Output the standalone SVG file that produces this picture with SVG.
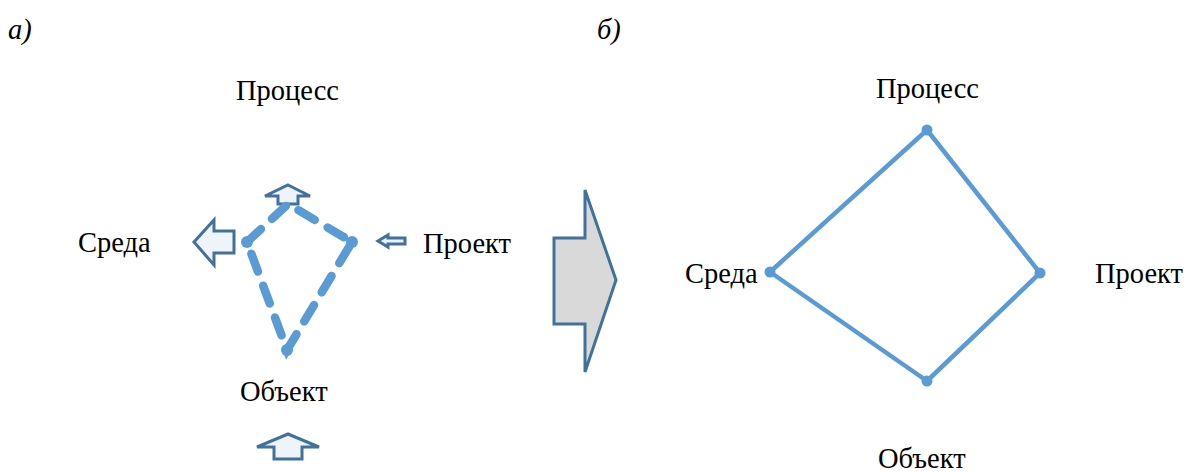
<svg xmlns="http://www.w3.org/2000/svg" width="1189" height="472" viewBox="0 0 1189 472">
<style>
.t{font-family:"Liberation Serif","Times New Roman",serif;font-size:28.5px;fill:#000}
.i{font-style:italic}
.arr{fill:#eef4fa;stroke:#41719c;stroke-width:3;stroke-linejoin:miter}
.dash{fill:none;stroke:#5b9bd5;stroke-width:8.5;stroke-linecap:round;stroke-dasharray:19 15}
.solid{fill:none;stroke:#5b9bd5;stroke-width:4.5;stroke-linejoin:round}
.dot{fill:#5b9bd5}
</style>
<rect width="1189" height="472" fill="#fff"/>
<text class="t i" x="8" y="39">а)</text>
<text class="t i" x="597" y="39">б)</text>
<g id="left-labels">
<text class="t" x="236" y="100">Процесс</text>
<text class="t" x="78" y="252">Среда</text>
<text class="t" x="423" y="253">Проект</text>
<text class="t" x="240" y="401">Объект</text>
</g>
<g id="left-arrows">
<polygon class="arr" points="288,185 310,196 298,196 298,204 278,204 278,196 265,196"/>
<polygon class="arr" points="194,242 214,220 214,231 234,231 234,253 214,253 214,265"/>
<polygon class="arr" points="378,241 388,235 388,238 405,238 405,244 388,244 388,247"/>
<polygon class="arr" points="288,434 319,447 302,447 302,459 274,459 274,447 257,447"/>
</g>
<g id="connectors">
<polygon class="dash" points="247,242 288,204 352,242 287,350"/>
<circle class="dot" cx="247" cy="242" r="6"/>
<circle class="dot" cx="352" cy="242" r="6"/>
<circle class="dot" cx="287" cy="350" r="6"/>
<polygon class="solid" points="927,130 1040,273 927,381 770,272"/>
<circle class="dot" cx="927" cy="130" r="5.5"/>
<circle class="dot" cx="1040" cy="273" r="5.5"/>
<circle class="dot" cx="927" cy="381" r="5.5"/>
<circle class="dot" cx="770" cy="272" r="5.5"/>
</g>
<g id="big-arrow">
<polygon points="554,238 585,238 585,190 616,280 585,372 585,324 554,324" fill="#d9d9d9" stroke="#41719c" stroke-width="3"/>
</g>
<g id="right-labels">
<text class="t" x="876" y="98">Процесс</text>
<text class="t" x="685" y="283">Среда</text>
<text class="t" x="1095" y="283">Проект</text>
<text class="t" x="878" y="468">Объект</text>
</g>
</svg>
